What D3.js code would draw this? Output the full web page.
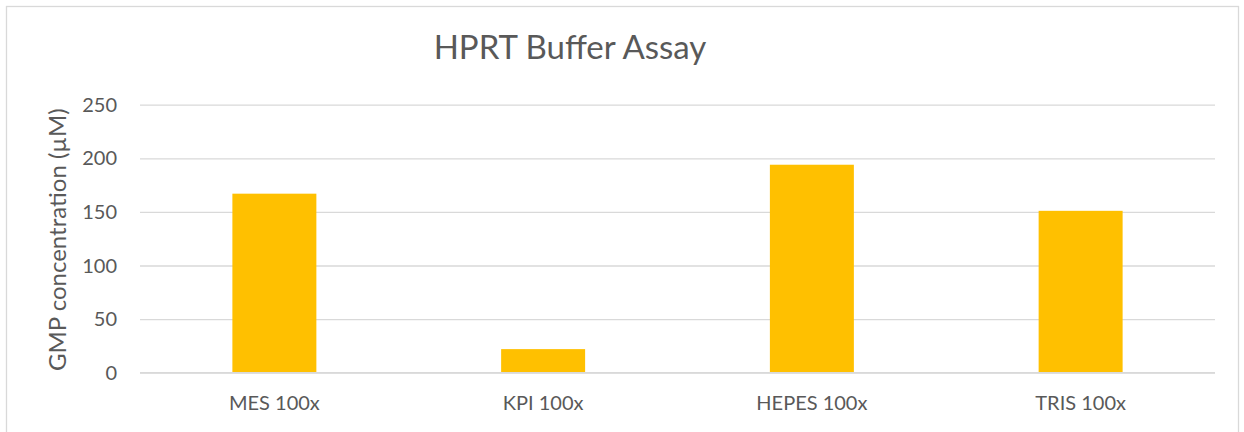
<!DOCTYPE html>
<html>
<head>
<meta charset="utf-8">
<script src="https://cdn.jsdelivr.net/npm/d3@7/dist/d3.min.js"></script>
<style>
  html, body { margin: 0; padding: 0; background: #fff; }
  svg { display: block; font-family: Lato, "Open Sans", "Liberation Sans", sans-serif; }
</style>
</head>
<body>
<svg id="chart" width="1244" height="432"></svg>
<script>
// Buffer screen: GMP produced per buffer condition
const categories = ["MES 100x", "KPI 100x", "HEPES 100x", "TRIS 100x"];
const gmpValues = [167, 22, 194, 151];
const yTicks = [0, 50, 100, 150, 200, 250];

const svg = d3.select("#chart");
const plot = { left: 140, right: 1215, top: 104.7, bottom: 372.7 };
const textColor = "#595959";
const gridColor = "#d9d9d9";

// outer frame
svg.append("rect")
  .attr("x", 6.5).attr("y", 6.5)
  .attr("width", 1232).attr("height", 440)
  .attr("fill", "#fff").attr("stroke", gridColor).attr("stroke-width", 1.3);

const x = d3.scaleBand()
  .domain(categories)
  .range([plot.left, plot.right])
  .paddingInner(0.6875)
  .paddingOuter(0.34375);

const y = d3.scaleLinear()
  .domain([0, 250])
  .range([plot.bottom, plot.top]);

// horizontal gridlines + tick labels
const yAxis = d3.axisLeft(y)
  .tickValues(yTicks)
  .tickSize(-(plot.right - plot.left))
  .tickPadding(23);

const gy = svg.append("g")
  .attr("transform", `translate(${plot.left},0)`)
  .call(yAxis);
gy.select(".domain").remove();
gy.selectAll(".tick line").attr("stroke", gridColor).attr("stroke-width", 1.3);
gy.selectAll(".tick text")
  .attr("fill", textColor)
  .attr("font-size", 20)
  .attr("dy", "0.33em")
  .attr("font-family", "Lato, 'Open Sans', sans-serif");

// bars
svg.append("g")
  .selectAll("rect")
  .data(categories)
  .join("rect")
  .attr("x", d => x(d))
  .attr("width", x.bandwidth())
  .attr("y", (d, i) => y(gmpValues[i]))
  .attr("height", (d, i) => y(0) - y(gmpValues[i]))
  .attr("fill", "#FFC000");

// baseline axis with category labels
const xAxis = d3.axisBottom(x).tickSize(0).tickPadding(0);
const gx = svg.append("g")
  .attr("transform", `translate(0,${plot.bottom})`)
  .call(xAxis);
gx.select(".domain").attr("stroke", gridColor).attr("stroke-width", 1.6)
  .attr("d", `M${plot.left},0H${plot.right}`);
gx.selectAll(".tick text")
  .attr("fill", textColor)
  .attr("font-size", 20)
  .attr("dy", null)
  .attr("y", 37.5)
  .attr("font-family", "Lato, 'Open Sans', sans-serif");

// title
svg.append("text")
  .attr("x", 570).attr("y", 59)
  .attr("text-anchor", "middle")
  .attr("fill", textColor)
  .attr("font-size", 33)
  .text("HPRT Buffer Assay");

// y-axis title
svg.append("text")
  .attr("transform", `translate(66,${(plot.top + plot.bottom) / 2 + 1}) rotate(-90)`)
  .attr("text-anchor", "middle")
  .attr("fill", textColor)
  .attr("font-size", 24)
  .text("GMP concentration (µM)");
</script>
</body>
</html>
